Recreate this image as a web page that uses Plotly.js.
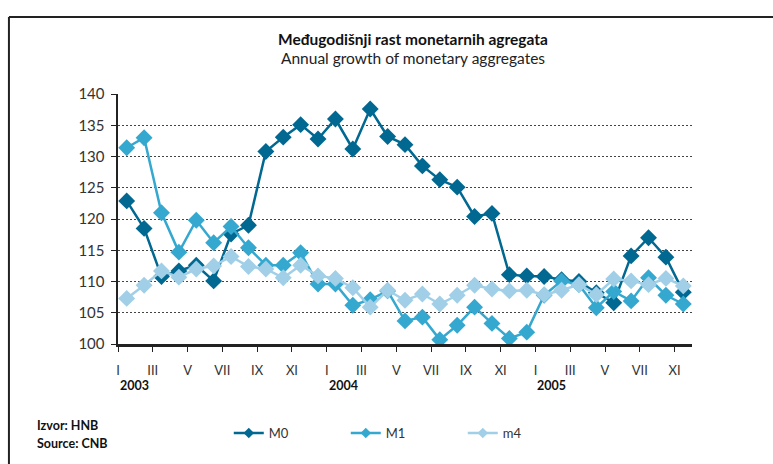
<!DOCTYPE html>
<html>
<head>
<meta charset="utf-8">
<script src="https://cdn.plot.ly/plotly-3.0.1.min.js"></script>
<style>
  html, body { margin: 0; padding: 0; background: #fff; }
  #chart { width: 773px; height: 464px; }
</style>
</head>
<body>
<div id="chart"></div>
<script>
// months Jan 2003 - Sep 2005
var months = [];
for (var i = 0; i < 33; i++) months.push(i);

var m0 = [122.9, 118.5, 110.8, 111.7, 112.6, 110.1, 117.6, 119.0, 130.8, 133.1, 135.1, 132.8,
          136.0, 131.2, 137.6, 133.2, 131.9, 128.5, 126.3, 125.1, 120.4, 120.9, 111.1, 110.9,
          110.8, 110.3, 110.0, 108.2, 106.6, 114.1, 117.0, 113.9, 108.3];
var m1 = [131.4, 133.0, 121.0, 114.7, 119.8, 116.2, 118.8, 115.4, 112.6, 112.6, 114.6, 109.6,
          109.6, 106.2, 107.1, 108.5, 103.7, 104.3, 100.7, 103.0, 105.9, 103.3, 100.9, 101.9,
          107.8, 110.1, 109.5, 105.8, 108.4, 106.9, 110.6, 107.8, 106.4];
var m4 = [107.3, 109.4, 111.7, 110.7, 112.0, 112.5, 114.0, 112.4, 112.0, 110.6, 112.6, 110.9,
          110.5, 109.0, 105.9, 108.6, 107.0, 108.0, 106.4, 107.8, 109.4, 108.8, 108.5, 108.6,
          107.9, 108.6, 109.5, 107.9, 110.4, 110.1, 109.5, 110.5, 109.3];

var tickPos = [-0.5, 1.5, 3.5, 5.5, 7.5, 9.5, 11.5, 13.5, 15.5, 17.5, 19.5, 21.5, 23.5, 25.5, 27.5, 29.5, 31.5];
var tickLabels = ["I", "III", "V", "VII", "IX", "XI", "I", "III", "V", "VII", "IX", "XI", "I", "III", "V", "VII", "XI"];
var years = ["2003", "2004", "2005"];
var yearPos = [-0.5, 11.5, 23.5];

var FONT = "Lato, 'Open Sans', sans-serif";
var colors = {M0: '#006891', M1: '#35a8d0', m4: '#a0cfe7'};

function series(name, y) {
  return {
    x: months, y: y, name: name, type: 'scatter', mode: 'lines+markers', showlegend: false,
    line: {color: colors[name], width: 2.5},
    marker: {symbol: 'diamond', size: 13, color: colors[name]}
  };
}
// legend-only entries with smaller symbols
function legendItem(name) {
  return {
    x: [null], y: [null], name: name, type: 'scatter', mode: 'lines+markers',
    line: {color: colors[name], width: 2.5},
    marker: {symbol: 'diamond', size: 8, color: colors[name]}
  };
}

var data = [
  series('M0', m0), series('M1', m1), series('m4', m4),
  legendItem('M0'), legendItem('M1'), legendItem('m4')
];

var annotations = [
  {text: '<b>Međugodišnji rast monetarnih agregata</b>', xref: 'paper', yref: 'paper',
   x: 0.514, y: 1.22, yanchor: 'middle', showarrow: false, font: {size: 15.5, color: '#111'}},
  {text: 'Annual growth of monetary aggregates', xref: 'paper', yref: 'paper',
   x: 0.514, y: 1.144, yanchor: 'middle', showarrow: false, font: {size: 15.5, color: '#222'}},
  {text: '<b>Izvor: HNB</b>', xref: 'paper', yref: 'paper', x: -0.145, y: -0.324,
   xanchor: 'left', yanchor: 'middle', showarrow: false, font: {size: 12.5, color: '#111'}},
  {text: '<b>Source: CNB</b>', xref: 'paper', yref: 'paper', x: -0.145, y: -0.396,
   xanchor: 'left', yanchor: 'middle', showarrow: false, font: {size: 12.5, color: '#111'}}
];
for (var k = 0; k < years.length; k++) {
  annotations.push({text: '<b>' + years[k] + '</b>', xref: 'x', yref: 'paper',
    x: yearPos[k], y: -0.164, xanchor: 'left', yanchor: 'middle', showarrow: false,
    font: {size: 12.5, color: '#111'}});
}

var layout = {
  width: 773, height: 464,
  margin: {l: 118, r: 81, t: 94, b: 120},
  paper_bgcolor: '#fff', plot_bgcolor: '#fff',
  font: {family: FONT, color: '#222'},
  showlegend: true,
  legend: {orientation: 'h', x: 0.193, y: -0.356, xanchor: 'left', yanchor: 'middle',
           entrywidth: 72, font: {size: 13, color: '#333'}},
  xaxis: {
    range: [-0.5, 32.5], tickmode: 'array', tickvals: tickPos, ticktext: tickLabels,
    showgrid: false, zeroline: false, showline: true, linecolor: '#222', linewidth: 2.5,
    ticks: 'outside', ticklen: 5, tickcolor: '#222', tickwidth: 1,
    ticklabelstandoff: 8, tickfont: {size: 13, color: '#333'}
  },
  yaxis: {
    range: [100, 140], dtick: 5, tick0: 100,
    showgrid: true, gridcolor: '#444', gridwidth: 1, griddash: '2px,2px',
    zeroline: false, showline: true, linecolor: '#222', linewidth: 2.5,
    ticks: 'outside', ticklen: 5, tickcolor: '#222', tickwidth: 1,
    ticklabelstandoff: 3, tickfont: {size: 15, color: '#333'}
  },
  annotations: annotations,
  shapes: [
    {type: 'line', xref: 'paper', yref: 'paper', x0: -0.19, x1: 1.15, y0: 1.308, y1: 1.308,
     line: {color: '#222', width: 2}},
    {type: 'line', xref: 'paper', yref: 'paper', x0: -0.19, x1: -0.19, y0: 1.308, y1: -0.5,
     line: {color: '#222', width: 2}}
  ]
};

Plotly.newPlot('chart', data, layout, {displayModeBar: false, staticPlot: true});
</script>
</body>
</html>
